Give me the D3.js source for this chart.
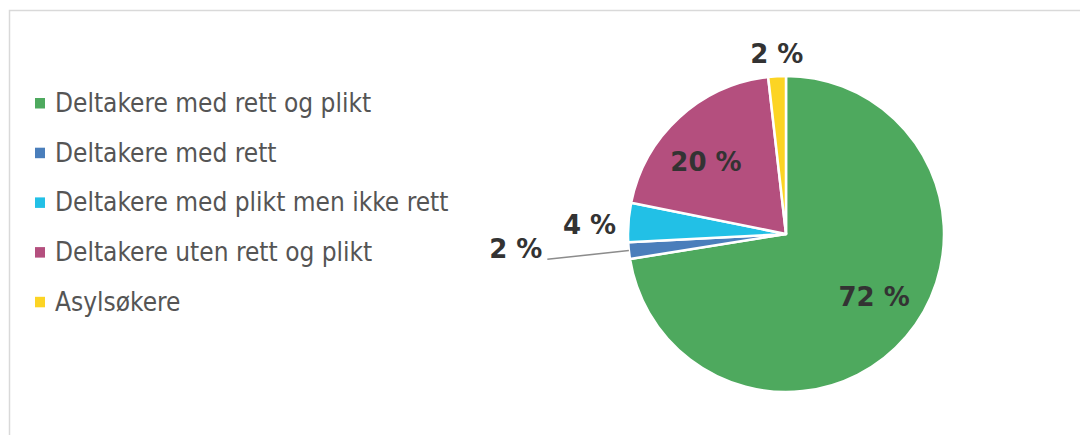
<!DOCTYPE html>
<html>
<head>
<meta charset="utf-8">
<script src="https://cdn.jsdelivr.net/npm/d3@7"></script>
<style>
  body { margin: 0; background: #fff; }
  svg { display: block; }
</style>
</head>
<body>
<svg id="chart"></svg>
<script>
// data (share in percent, pie goes clockwise from 12 o'clock)
const categories = [
    "Deltakere med rett og plikt",
    "Deltakere med rett",
    "Deltakere med plikt men ikke rett",
    "Deltakere uten rett og plikt",
    "Asylsøkere"
];
const shares = [72.4, 1.7, 4.0, 20.0, 1.8];
const labels = ["72 %", "2 %", "4 %", "20 %", "2 %"];
const colors = ["#4ea95e", "#4a7ebb", "#22c0e6", "#b44f7e", "#fcd424"];

const width = 1080, height = 435;
const svg = d3.select("#chart").attr("width", width).attr("height", height);

// chart area frame
svg.append("rect")
    .attr("x", 9.5).attr("y", 10.5)
    .attr("width", 1200).attr("height", 600)
    .attr("fill", "none")
    .attr("stroke", "#d9d9d9")
    .attr("stroke-width", 1.5);

// legend
let legend = svg.append("g").attr("transform", "translate(35,103)");
let rows = legend.selectAll("g").data(categories).enter().append("g")
    .attr("transform", (d, i) => "translate(0," + (i * 49.7) + ")");
rows.append("rect")
    .attr("x", 0).attr("y", -5)
    .attr("width", 10).attr("height", 10.5)
    .attr("fill", (d, i) => colors[i]);
rows.append("text")
    .attr("x", 20).attr("y", 9)
    .style("font-family", "'DejaVu Sans Condensed', 'Liberation Sans', sans-serif")
    .style("font-size", "26px")
    .style("fill", "#555")
    .text(d => d);

// pie
const cx = 786, cy = 234, r = 158;
let pie = d3.pie().sort(null).value(d => d);
let arcs = pie(shares);
let arc = d3.arc().innerRadius(0).outerRadius(r);
let g = svg.append("g").attr("transform", "translate(" + cx + "," + cy + ")");

g.selectAll("path").data(arcs).enter().append("path")
    .attr("d", arc)
    .attr("fill", (d, i) => colors[i])
    .attr("stroke", "#fff")
    .attr("stroke-width", 2.5)
    .attr("stroke-linejoin", "round");

// label placement: inside labels on a fixed radius, small slices outside
// dx/dy are small nudges like Excel's best fit
const placement = [
    {r: 108, dx: 6, dy: -8},
    {r: 240, leader: true, dx: 0, dy: -2},
    {r: 197, dx: 0, dy: 5},
    {r: 108, dx: -7, dy: 7},
    {r: 181, dx: 1, dy: 0}
];

function polar(a, rad) {
    return [Math.sin(a) * rad, -Math.cos(a) * rad];
}

arcs.forEach(function(d, i) {
    let mid = (d.startAngle + d.endAngle) / 2;
    let p = placement[i];
    let pos = polar(mid, p.r);
    let anchor = "middle";
    let tx = pos[0] + p.dx;
    let ty = pos[1] + 10 + p.dy;
    if (p.leader) {
        let start = polar(mid, r);
        g.append("line")
            .attr("x1", start[0]).attr("y1", start[1])
            .attr("x2", pos[0]).attr("y2", pos[1])
            .attr("stroke", "#8c8c8c")
            .attr("stroke-width", 1.5);
        anchor = "end";
        tx = pos[0] - 5 + p.dx;
        ty = pos[1] + 1 + p.dy;
    }
    g.append("text")
        .attr("x", tx).attr("y", ty)
        .attr("text-anchor", anchor)
        .style("font-family", "'DejaVu Sans', Verdana, sans-serif")
        .style("font-weight", "bold")
        .style("font-size", "26px")
        .style("fill", "#333")
        .text(labels[i]);
});
</script>
</body>
</html>
